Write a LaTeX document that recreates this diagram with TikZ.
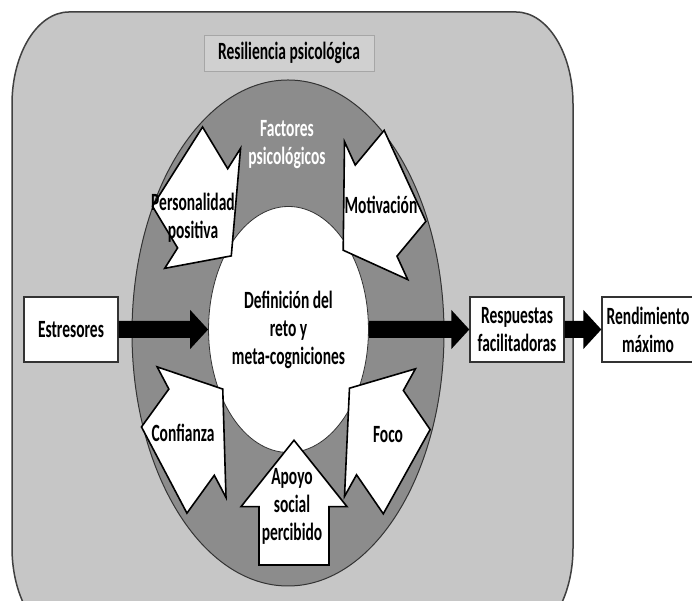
\documentclass[tikz,border=0pt]{standalone}
\usepackage{fontspec}
\setmainfont{Carlito}
\usetikzlibrary{shapes.geometric,arrows.meta}
\definecolor{panelgray}{RGB}{198,198,198}
\definecolor{ringgray}{RGB}{140,140,140}
\definecolor{titlegray}{RGB}{208,208,208}
\newcommand{\factorarrow}[3]{%
  \draw[factor, shift={(#1,#2)}, rotate=#3] (0,-35) -- (36,-35) -- (36,-53) -- (77,0) -- (36,53) -- (36,35) -- (0,35) -- cycle;}

\begin{document}
\begin{tikzpicture}[x=1pt, y=1pt,
tall/.style={yscale=1.6, transform shape},
lbl/.style={tall, font=\bfseries\fontsize{15.5}{17.5}\selectfont, align=center, inner sep=0pt},
stage/.style={lbl, draw=black!80, fill=white, line width=1.3pt, minimum width=94pt, minimum height=40.6pt},
panel/.style={draw=black!75, fill=panelgray, line width=1.5pt},
factor/.style={draw=black, fill=white, line width=1.6pt, line join=miter},
flow/.style={line width=17pt, -{Triangle[length=18pt, width=38pt]}}]

\clip (0,0) rectangle (692,601);
\fill[white] (0,0) rectangle (692,601);

\draw[panel] (12,53) arc[start angle=180, end angle=270, x radius=57, y radius=92] -- (516,-39)
  arc[start angle=270, end angle=360, x radius=57, y radius=92] -- (573,497)
  arc[start angle=0, end angle=90, x radius=57, y radius=92] -- (69,589)
  arc[start angle=90, end angle=180, x radius=57, y radius=92] -- cycle;

\node[lbl, draw=black!35, fill=titlegray, line width=0.8pt, minimum width=170pt, minimum height=22.5pt] (resil) at (289,548) {Resiliencia psicológica};

\node[ellipse, draw=black!80, fill=ringgray, line width=1pt, minimum width=312pt, minimum height=506pt] (ring) at (288,268) {};
\node[lbl, text=white] (factores) at (287,456) {Factores\\psicológicos};

\node[lbl, ellipse, draw=black!80, fill=white, line width=0.8pt, minimum width=155pt, minimum height=153.75pt] (reto) at (288.5,271.5) {Definición del\\reto y\\meta-cogniciones};

\begin{scope}[shift={(288,268)}, yscale=1.62]
\factorarrow{-110.5}{102.7}{-45.7}
\factorarrow{117}{97}{216.6}
\factorarrow{-123.8}{-84.6}{40.5}
\factorarrow{118.7}{-85.6}{138}
\factorarrow{6}{-143.2}{90}
\end{scope}

\node[lbl] (perso) at (193,383) {Personalidad\\positiva};
\node[lbl] (motiv) at (381,396) {Motivación};
\node[lbl] (confi) at (183,168) {Confianza};
\node[lbl] (foco) at (388,166) {Foco};
\node[lbl] (apoyo) at (292,95) {Apoyo\\social\\percibido};

\node[stage] (estres) at (71,271.5) {Estresores};
\node[stage] (resp) at (517,271.5) {Respuestas\\facilitadoras};
\node[stage, minimum width=92pt] (rend) at (648,271.5) {Rendimiento\\máximo};

\draw[flow] (estres) -- (reto);
\draw[flow] (reto) -- (resp);
\draw[flow] (resp) -- (rend);
\end{tikzpicture}
\end{document}
